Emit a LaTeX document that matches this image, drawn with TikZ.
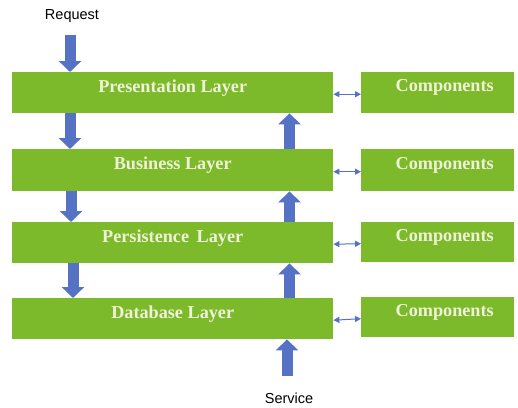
\documentclass[tikz,border=0pt]{standalone}
\usepackage{fontspec}
\setmainfont{Liberation Serif}
\newfontfamily\labelfont{Liberation Sans}
\usetikzlibrary{arrows.meta}
\definecolor{layergreen}{RGB}{124,186,44}
\definecolor{flowblue}{RGB}{86,114,196}
\definecolor{captext}{RGB}{240,242,215}
\begin{document}
\begin{tikzpicture}[x=1pt,y=-1pt,
  layerbox/.style={fill=layergreen, draw=none, inner sep=0pt, anchor=north west},
  boxtext/.style={text=captext, font=\bfseries\fontsize{18.2}{21}\selectfont},
  flow/.style={draw=flowblue, line width=11pt,
    -{Triangle[length=11pt 0 0, width=22pt 0 0, fill=flowblue]}},
  link/.style={draw=flowblue, line width=1pt,
    {Triangle[length=6pt 0 0,width=6pt 0 0]}-{Triangle[length=6pt 0 0,width=6pt 0 0]}},
  caption/.style={font=\labelfont\fontsize{14.5}{17}\selectfont}]
\useasboundingbox (0,0) rectangle (518,407);

% layer boxes
\node[layerbox, minimum width=321pt, minimum height=41pt] (pres) at (12,72) {};
\node[layerbox, minimum width=321pt, minimum height=42pt] (bus) at (12,149) {};
\node[layerbox, minimum width=321pt, minimum height=41pt] (pers) at (12,222) {};
\node[layerbox, minimum width=321pt, minimum height=41pt] (db) at (12,298) {};

% component boxes
\node[layerbox, minimum width=153pt, minimum height=41pt] (c1) at (361,72) {};
\node[layerbox, minimum width=153pt, minimum height=42pt] (c2) at (361,149) {};
\node[layerbox, minimum width=153pt, minimum height=40pt] (c3) at (361,222) {};
\node[layerbox, minimum width=153pt, minimum height=40pt] (c4) at (361,297) {};

% box captions
\node[boxtext] (tpres) at ([yshift=5pt]pres.center) {Presentation Layer};
\node[boxtext] (tbus) at ([yshift=5pt]bus.center) {Business Layer};
\node[boxtext] (tpers) at ([yshift=5pt]pers.center) {Persistence\, Layer};
\node[boxtext] (tdb) at ([yshift=5pt]db.center) {Database Layer};
\foreach \c in {c1,c2,c3,c4}
  \node[boxtext] at ([xshift=7pt,yshift=5pt]\c.center) {Components};

% links between layers and components
\foreach \l/\c in {pres/c1,bus/c2,pers/c3,db/c4}
  \draw[link] ([yshift=-1.5pt]\l.east) -- ([yshift=-1.5pt]\c.west);

% request and service captions
\node[caption] (req) at (72,16) {Request};
\node[caption] (srv) at (289,398) {Service};
\coordinate (reqfoot) at (70,35);
\coordinate (srvfoot) at (287,376);

% downward flow
\draw[flow] (reqfoot) -- ([xshift=58pt]pres.north west);
\draw[flow] ([xshift=58pt]pres.south west) -- ([xshift=58pt]bus.north west);
\draw[flow] ([xshift=59pt]bus.south west) -- ([xshift=59pt]pers.north west);
\draw[flow] ([xshift=61pt]pers.south west) -- ([xshift=61pt]db.north west);

% upward flow
\draw[flow] ([xshift=277.5pt]bus.north west) -- ([xshift=277.5pt]pres.south west);
\draw[flow] ([xshift=277.5pt]pers.north west) -- ([xshift=277.5pt]bus.south west);
\draw[flow] ([xshift=277.5pt]db.north west) -- ([xshift=277.5pt]pers.south west);
\draw[flow] (srvfoot) -- ([xshift=275pt]db.south west);
\end{tikzpicture}
\end{document}
